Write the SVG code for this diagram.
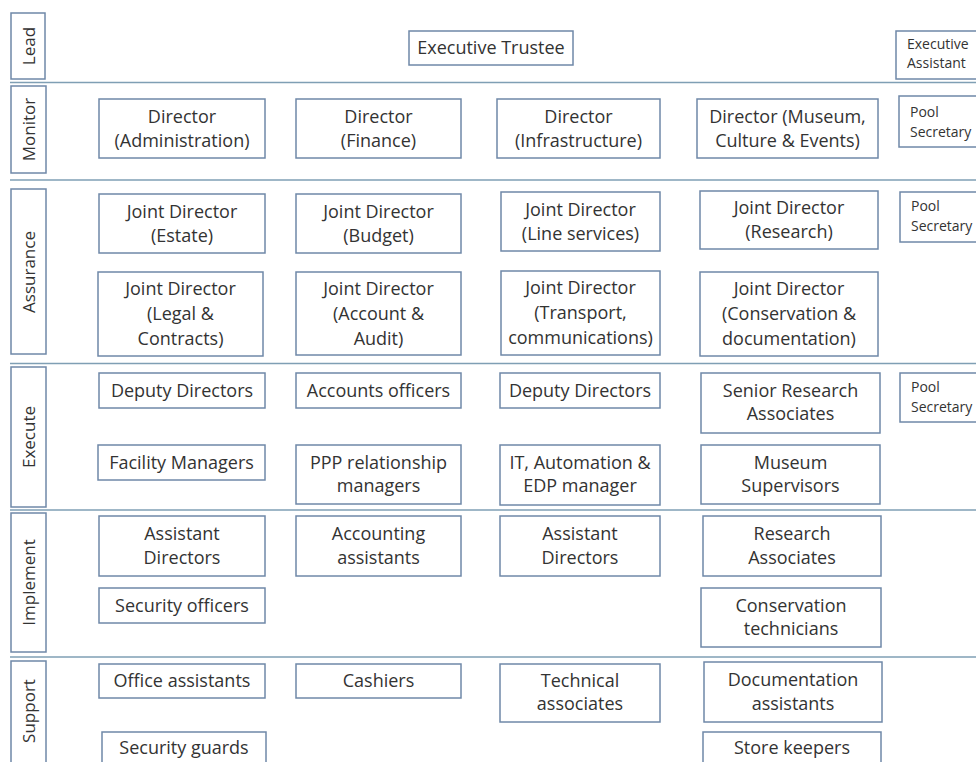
<svg xmlns="http://www.w3.org/2000/svg" width="976" height="762" viewBox="0 0 976 762">
  <style>
    .box { fill: #ffffff; stroke: #6f88a8; stroke-width: 1.5; }
    .lane { fill: #ffffff; stroke: #6f88a8; stroke-width: 1.5; }
    .sep { stroke: #7f9fb4; stroke-width: 1.5; fill: none; }
    text { font-family: "Open Sans", "Liberation Sans", sans-serif; fill: #333333; }
    .t { font-size: 18px; text-anchor: middle; }
    .s { font-size: 14px; text-anchor: start; }
    .lbl { font-size: 17px; text-anchor: middle; dominant-baseline: central; }
  </style>
  <rect width="976" height="762" fill="#ffffff"/>

  <!-- band separators -->
  <g id="connectors">
    <line class="sep" x1="10" y1="82.5" x2="976" y2="82.5"/>
    <line class="sep" x1="10" y1="180" x2="976" y2="180"/>
    <line class="sep" x1="10" y1="363.5" x2="976" y2="363.5"/>
    <line class="sep" x1="10" y1="510" x2="976" y2="510"/>
    <line class="sep" x1="10" y1="657" x2="976" y2="657"/>
  </g>

  <!-- band labels -->
  <g id="lane-lead"><rect class="lane" x="11" y="13" width="34" height="66"/><text class="lbl" transform="translate(28 46) rotate(-90)">Lead</text></g>
  <g id="lane-monitor"><rect class="lane" x="11" y="86" width="35" height="87"/><text class="lbl" transform="translate(28.5 129.5) rotate(-90)">Monitor</text></g>
  <g id="lane-assurance"><rect class="lane" x="11" y="189" width="35" height="165"/><text class="lbl" transform="translate(28.5 272) rotate(-90)">Assurance</text></g>
  <g id="lane-execute"><rect class="lane" x="11" y="367" width="35" height="140"/><text class="lbl" transform="translate(28.5 437) rotate(-90)">Execute</text></g>
  <g id="lane-implement"><rect class="lane" x="11" y="513" width="35" height="139"/><text class="lbl" transform="translate(28.5 582.5) rotate(-90)">Implement</text></g>
  <g id="lane-support"><rect class="lane" x="11" y="661" width="35" height="110"/><text class="lbl" transform="translate(28.5 711) rotate(-90)">Support</text></g>

  <!-- Lead -->
  <g id="executive-trustee"><rect class="box" x="409" y="31" width="164" height="34"/><text class="t" x="491" y="54">Executive Trustee</text></g>
  <g id="executive-assistant"><rect class="box" x="896" y="31" width="90" height="48"/><text class="s" x="907" y="49">Executive</text><text class="s" x="907" y="68">Assistant</text></g>

  <!-- Monitor -->
  <g id="director-administration"><rect class="box" x="99" y="99" width="166" height="59"/><text class="t" x="182" y="122.5">Director</text><text class="t" x="182" y="146.5">(Administration)</text></g>
  <g id="director-finance"><rect class="box" x="296" y="99" width="165" height="59"/><text class="t" x="378.5" y="122.5">Director</text><text class="t" x="378.5" y="146.5">(Finance)</text></g>
  <g id="director-infrastructure"><rect class="box" x="497" y="99" width="163" height="59"/><text class="t" x="578.5" y="122.5">Director</text><text class="t" x="578.5" y="146.5">(Infrastructure)</text></g>
  <g id="director-museum"><rect class="box" x="697" y="99" width="181" height="59"/><text class="t" x="787.5" y="122.5">Director (Museum,</text><text class="t" x="787.5" y="146.5">Culture &amp; Events)</text></g>
  <g id="pool-secretary-1"><rect class="box" x="899" y="96" width="90" height="51"/><text class="s" x="910" y="117">Pool</text><text class="s" x="910" y="137">Secretary</text></g>

  <!-- Assurance -->
  <g id="jd-estate"><rect class="box" x="99" y="194" width="166" height="59"/><text class="t" x="182" y="217.5">Joint Director</text><text class="t" x="182" y="241.5">(Estate)</text></g>
  <g id="jd-budget"><rect class="box" x="296" y="194" width="165" height="59"/><text class="t" x="378.5" y="217.5">Joint Director</text><text class="t" x="378.5" y="241.5">(Budget)</text></g>
  <g id="jd-line-services"><rect class="box" x="501" y="192" width="159" height="59"/><text class="t" x="580.5" y="215.5">Joint Director</text><text class="t" x="580.5" y="239.5">(Line services)</text></g>
  <g id="jd-research"><rect class="box" x="700" y="191" width="178" height="58"/><text class="t" x="789" y="214">Joint Director</text><text class="t" x="789" y="238">(Research)</text></g>
  <g id="pool-secretary-2"><rect class="box" x="900" y="192" width="90" height="50"/><text class="s" x="911" y="211">Pool</text><text class="s" x="911" y="231">Secretary</text></g>

  <g id="jd-legal"><rect class="box" x="98" y="272" width="165" height="84"/><text class="t" x="180.5" y="295">Joint Director</text><text class="t" x="180.5" y="320">(Legal &amp;</text><text class="t" x="180.5" y="345">Contracts)</text></g>
  <g id="jd-account"><rect class="box" x="296" y="272" width="165" height="83"/><text class="t" x="378.5" y="295">Joint Director</text><text class="t" x="378.5" y="320">(Account &amp;</text><text class="t" x="378.5" y="345">Audit)</text></g>
  <g id="jd-transport"><rect class="box" x="501" y="271" width="159" height="84"/><text class="t" x="580.5" y="294">Joint Director</text><text class="t" x="580.5" y="319">(Transport,</text><text class="t" x="580.5" y="344">communications)</text></g>
  <g id="jd-conservation"><rect class="box" x="700" y="272" width="178" height="84"/><text class="t" x="789" y="295">Joint Director</text><text class="t" x="789" y="320">(Conservation &amp;</text><text class="t" x="789" y="345">documentation)</text></g>

  <!-- Execute -->
  <g id="deputy-directors-1"><rect class="box" x="99" y="373" width="166" height="35"/><text class="t" x="182" y="397">Deputy Directors</text></g>
  <g id="accounts-officers"><rect class="box" x="296" y="373" width="165" height="35"/><text class="t" x="378.5" y="397">Accounts officers</text></g>
  <g id="deputy-directors-2"><rect class="box" x="500" y="373" width="160" height="35"/><text class="t" x="580" y="397">Deputy Directors</text></g>
  <g id="senior-research-associates"><rect class="box" x="701" y="373" width="179" height="60"/><text class="t" x="790.5" y="396.5">Senior Research</text><text class="t" x="790.5" y="420">Associates</text></g>
  <g id="pool-secretary-3"><rect class="box" x="900" y="373" width="90" height="49"/><text class="s" x="911" y="392">Pool</text><text class="s" x="911" y="412">Secretary</text></g>

  <g id="facility-managers"><rect class="box" x="98" y="445" width="167" height="35"/><text class="t" x="181.5" y="469">Facility Managers</text></g>
  <g id="ppp-managers"><rect class="box" x="296" y="445" width="165" height="59"/><text class="t" x="378.5" y="469">PPP relationship</text><text class="t" x="378.5" y="492">managers</text></g>
  <g id="it-edp-manager"><rect class="box" x="500" y="445" width="160" height="60"/><text class="t" x="580" y="469">IT, Automation &amp;</text><text class="t" x="580" y="492">EDP manager</text></g>
  <g id="museum-supervisors"><rect class="box" x="701" y="445" width="179" height="59"/><text class="t" x="790.5" y="469">Museum</text><text class="t" x="790.5" y="492">Supervisors</text></g>

  <!-- Implement -->
  <g id="assistant-directors-1"><rect class="box" x="99" y="516" width="166" height="60"/><text class="t" x="182" y="540">Assistant</text><text class="t" x="182" y="564">Directors</text></g>
  <g id="accounting-assistants"><rect class="box" x="296" y="516" width="165" height="60"/><text class="t" x="378.5" y="540">Accounting</text><text class="t" x="378.5" y="564">assistants</text></g>
  <g id="assistant-directors-2"><rect class="box" x="500" y="516" width="160" height="60"/><text class="t" x="580" y="540">Assistant</text><text class="t" x="580" y="564">Directors</text></g>
  <g id="research-associates"><rect class="box" x="703" y="516" width="178" height="60"/><text class="t" x="792" y="540">Research</text><text class="t" x="792" y="564">Associates</text></g>

  <g id="security-officers"><rect class="box" x="99" y="588" width="166" height="35"/><text class="t" x="182" y="612">Security officers</text></g>
  <g id="conservation-technicians"><rect class="box" x="701" y="588" width="180" height="59"/><text class="t" x="791" y="611.5">Conservation</text><text class="t" x="791" y="635">technicians</text></g>

  <!-- Support -->
  <g id="office-assistants"><rect class="box" x="99" y="664" width="166" height="34"/><text class="t" x="182" y="687">Office assistants</text></g>
  <g id="cashiers"><rect class="box" x="296" y="664" width="165" height="34"/><text class="t" x="378.5" y="687">Cashiers</text></g>
  <g id="technical-associates"><rect class="box" x="500" y="664" width="160" height="58"/><text class="t" x="580" y="686.5">Technical</text><text class="t" x="580" y="710">associates</text></g>
  <g id="documentation-assistants"><rect class="box" x="704" y="662" width="178" height="60"/><text class="t" x="793" y="686">Documentation</text><text class="t" x="793" y="710">assistants</text></g>

  <g id="security-guards"><rect class="box" x="102" y="732" width="164" height="40"/><text class="t" x="184" y="754">Security guards</text></g>
  <g id="store-keepers"><rect class="box" x="703" y="732" width="178" height="40"/><text class="t" x="792" y="754">Store keepers</text></g>
</svg>
